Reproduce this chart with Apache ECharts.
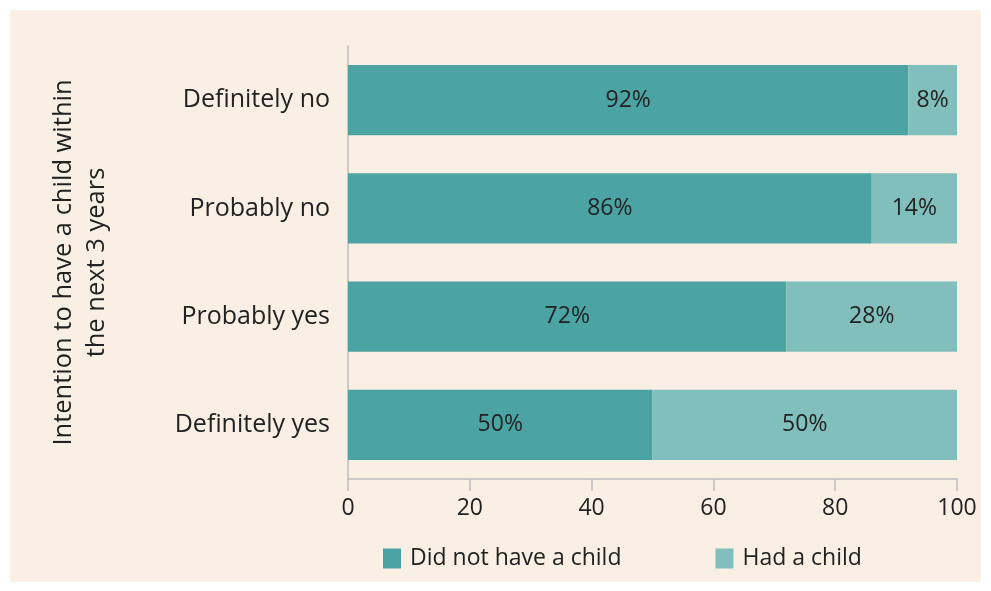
<!DOCTYPE html>
<html><head><meta charset="utf-8">
<script src="https://cdn.jsdelivr.net/npm/echarts@6/dist/echarts.min.js"></script>
<style>html,body{margin:0;padding:0;background:#fff}#c{width:991px;height:591px}</style>
</head><body><div id="c"></div>
<script>
const categories = ['Definitely no', 'Probably no', 'Probably yes', 'Definitely yes'];
const didNotHave = [92, 86, 72, 50];
const hadChild = [8, 14, 28, 50];
const xTicks = [0, 20, 40, 60, 80, 100];
const seriesNames = ['Did not have a child', 'Had a child'];

const FONT = 'Open Sans';
const chart = echarts.init(document.getElementById('c'));
chart.setOption({
  animation: false,
  backgroundColor: '#fff',
  textStyle: { fontFamily: FONT, color: '#222' },
  graphic: [{ type: 'rect', z: -10, shape: { x: 10, y: 10, width: 971, height: 572 }, style: { fill: '#faefe4' } }],
  grid: { left: 348, right: 34, top: 46, bottom: 112 },
  legend: {
    left: 378, top: 542, itemWidth: 18, itemHeight: 20, itemGap: 94,
    icon: 'rect',
    textStyle: { fontFamily: FONT, fontSize: 23, color: '#222', padding: [0, 0, 0, 4] },
    data: seriesNames
  },
  xAxis: {
    type: 'value', min: 0, max: 100, interval: 20,
    axisLine: { show: true, lineStyle: { color: '#bdbdbd', width: 1.5 } },
    axisTick: { show: true, length: 12, lineStyle: { color: '#bdbdbd', width: 1.5 } },
    splitLine: { show: false },
    axisLabel: { fontSize: 23, color: '#222', fontFamily: FONT, margin: 18,
      formatter: v => xTicks.includes(v) ? String(v) : '' }
  },
  yAxis: {
    type: 'category', data: categories, inverse: true,
    axisLine: { show: true, lineStyle: { color: '#bdbdbd', width: 1.5 } },
    axisTick: { show: false },
    axisLabel: { fontSize: 25, color: '#222', fontFamily: FONT, margin: 18 },
    name: 'Intention to have a child within\nthe next 3 years',
    nameLocation: 'middle', nameRotate: 90, nameGap: 235,
    nameTextStyle: { fontSize: 25.5, color: '#222', fontFamily: FONT, lineHeight: 33, align: 'center' }
  },
  series: [
    { name: seriesNames[0], type: 'bar', stack: 'a', data: didNotHave, barCategoryGap: '35%',
      itemStyle: { color: '#4ba3a3' },
      label: { show: true, position: 'inside', formatter: '{c}%', fontSize: 23, color: '#222', fontFamily: FONT } },
    { name: seriesNames[1], type: 'bar', stack: 'a', data: hadChild, barCategoryGap: '35%',
      itemStyle: { color: '#80bfbc' },
      label: { show: true, position: 'inside', formatter: '{c}%', fontSize: 23, color: '#222', fontFamily: FONT } }
  ]
});
</script></body></html>
